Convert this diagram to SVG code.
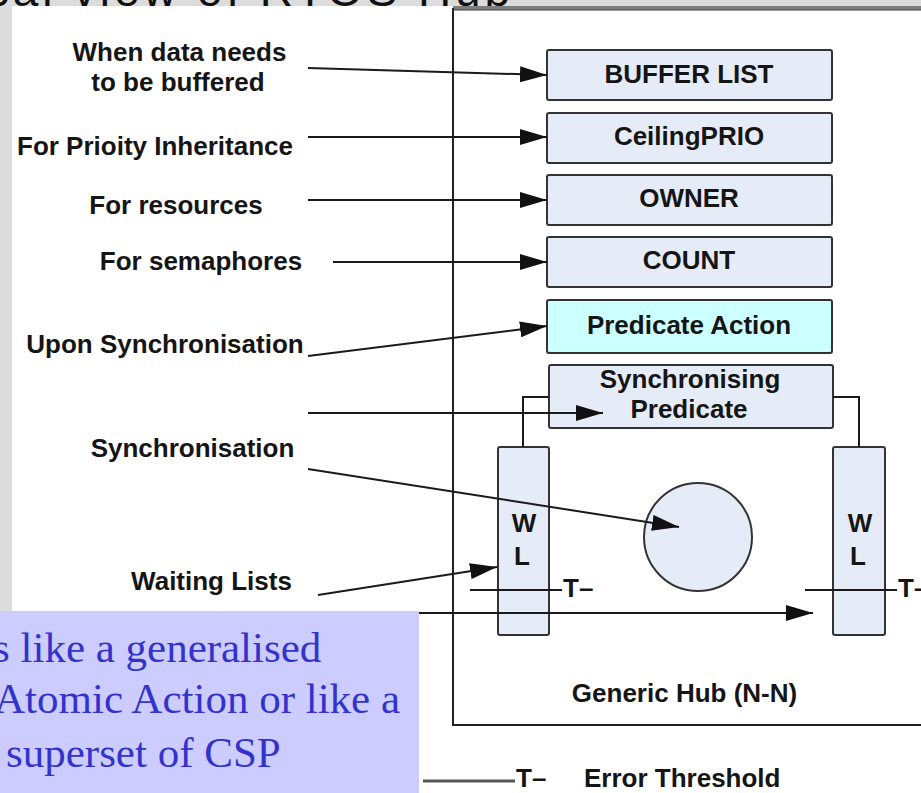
<svg xmlns="http://www.w3.org/2000/svg" width="921" height="793" viewBox="0 0 921 793">
  <style>
    .lbl { font-family: "Liberation Sans", Arial, sans-serif; font-weight: bold; font-size: 26px; fill: #151515; }
    .mid { text-anchor: middle; }
    .box { fill: #e6ecf7; stroke: #333; stroke-width: 2; }
    .act { fill: #ccffff; stroke: #333; stroke-width: 2; }
    .wire { fill: none; stroke: #1a1a1a; stroke-width: 2; }
    .note { font-family: "Liberation Serif", "Times New Roman", serif; font-size: 43px; fill: #3333cc; }
  </style>
  <defs>
    <marker id="arrow" markerUnits="userSpaceOnUse" markerWidth="27" markerHeight="16" refX="27" refY="8" orient="auto" viewBox="0 0 27 16">
      <path d="M0,0 L27,8 L0,16 Z" fill="#111"/>
    </marker>
  </defs>

  <!-- page background and slide frame -->
  <rect x="0" y="0" width="921" height="793" fill="#ffffff"/>
  <rect x="0" y="0" width="921" height="6" fill="#dcdcdc"/>
  <rect x="0" y="0" width="12" height="611" fill="#dcdcdc"/>
  <text x="-14" y="6" font-family="Liberation Sans, Arial, sans-serif" font-size="46" fill="#111" textLength="524" lengthAdjust="spacing">cal view of RTOS Hub</text>

  <!-- hub outline -->
  <g id="hub">
    <rect x="453" y="6" width="468" height="4" fill="#7d7d7d"/>
    <path d="M453,8 V725 H921" fill="none" stroke="#222" stroke-width="2"/>
    <path d="M453,10 H921" fill="none" stroke="#444" stroke-width="1"/>
    <text class="lbl mid" x="684.5" y="702">Generic Hub (N-N)</text>
  </g>

  <!-- hub fields -->
  <g id="buffer-list">
    <rect class="box" x="547" y="50" width="285" height="50" rx="2"/>
    <text class="lbl mid" x="689" y="83">BUFFER LIST</text>
  </g>
  <g id="ceiling-prio">
    <rect class="box" x="547" y="113" width="285" height="50" rx="2"/>
    <text class="lbl mid" x="689" y="145">CeilingPRIO</text>
  </g>
  <g id="owner">
    <rect class="box" x="547" y="175" width="285" height="50" rx="2"/>
    <text class="lbl mid" x="689" y="207">OWNER</text>
  </g>
  <g id="count">
    <rect class="box" x="547" y="237" width="285" height="50" rx="2"/>
    <text class="lbl mid" x="689" y="269">COUNT</text>
  </g>
  <g id="predicate-action">
    <rect class="act" x="547" y="300" width="285" height="53" rx="2"/>
    <text class="lbl mid" x="689" y="334">Predicate Action</text>
  </g>
  <g id="sync-predicate">
    <rect class="box" x="549" y="365" width="284" height="63" rx="2"/>
    <text class="lbl mid" x="690" y="388">Synchronising</text>
    <text class="lbl mid" x="689" y="418">Predicate</text>
  </g>

  <!-- waiting lists and synchronisation point -->
  <g id="wl-left">
    <rect class="box" x="498" y="447" width="51" height="188" rx="2"/>
    <text class="lbl mid" x="524" y="532">W</text>
    <text class="lbl mid" x="522" y="565">L</text>
  </g>
  <g id="wl-right">
    <rect class="box" x="833" y="447" width="52" height="188" rx="2"/>
    <text class="lbl mid" x="860" y="532">W</text>
    <text class="lbl mid" x="858" y="565">L</text>
  </g>
  <g id="sync-point">
    <circle cx="698" cy="537" r="54" fill="#e6ecf7" stroke="#333" stroke-width="2"/>
  </g>

  <!-- annotations -->
  <g id="label-buffered">
    <text class="lbl mid" x="179.5" y="61">When data needs</text>
    <text class="lbl mid" x="178" y="91">to be buffered</text>
  </g>
  <g id="label-priority"><text class="lbl mid" x="155" y="155">For Prioity Inheritance</text></g>
  <g id="label-resources"><text class="lbl mid" x="176" y="214">For resources</text></g>
  <g id="label-semaphores"><text class="lbl mid" x="201" y="270">For semaphores</text></g>
  <g id="label-upon-sync"><text class="lbl mid" x="165" y="353">Upon Synchronisation</text></g>
  <g id="label-sync"><text class="lbl mid" x="192.5" y="457">Synchronisation</text></g>
  <g id="label-waiting"><text class="lbl mid" x="211.5" y="590">Waiting Lists</text></g>

  <!-- connectors -->
  <g id="connectors">
    <line class="wire" x1="308" y1="68" x2="547" y2="75" marker-end="url(#arrow)"/>
    <line class="wire" x1="308" y1="137" x2="547" y2="137" marker-end="url(#arrow)"/>
    <line class="wire" x1="308" y1="200" x2="547" y2="200" marker-end="url(#arrow)"/>
    <line class="wire" x1="333" y1="262" x2="547" y2="262" marker-end="url(#arrow)"/>
    <line class="wire" x1="308" y1="356" x2="547" y2="326" marker-end="url(#arrow)"/>
    <line class="wire" x1="308" y1="413" x2="603" y2="413" marker-end="url(#arrow)"/>
    <line class="wire" x1="308" y1="469" x2="679" y2="527" marker-end="url(#arrow)"/>
    <line class="wire" x1="318" y1="595" x2="497" y2="567" marker-end="url(#arrow)"/>
    <line class="wire" x1="308" y1="613" x2="813" y2="613" marker-end="url(#arrow)"/>
    <path class="wire" d="M549,397 H523 V447"/>
    <path class="wire" d="M833,397 H859 V447"/>
    <!-- error thresholds -->
    <line class="wire" x1="470" y1="590" x2="562" y2="590"/>
    <text class="lbl" x="563" y="597">T–</text>
    <line class="wire" x1="805" y1="590" x2="897" y2="590"/>
    <text class="lbl" x="898" y="597">T–</text>
  </g>

  <!-- legend -->
  <g id="legend">
    <line x1="423" y1="781" x2="515" y2="781" stroke="#555" stroke-width="3"/>
    <text class="lbl" x="516" y="787">T–</text>
    <text class="lbl" x="584" y="787">Error Threshold</text>
  </g>

  <!-- note panel -->
  <g id="note">
    <rect x="0" y="611" width="419" height="182" fill="#ccccff"/>
    <text class="note" x="-7" y="662">s like a generalised</text>
    <text class="note" x="-6" y="713">Atomic Action or like a</text>
    <text class="note" x="6" y="767">superset of CSP</text>
  </g>
</svg>
